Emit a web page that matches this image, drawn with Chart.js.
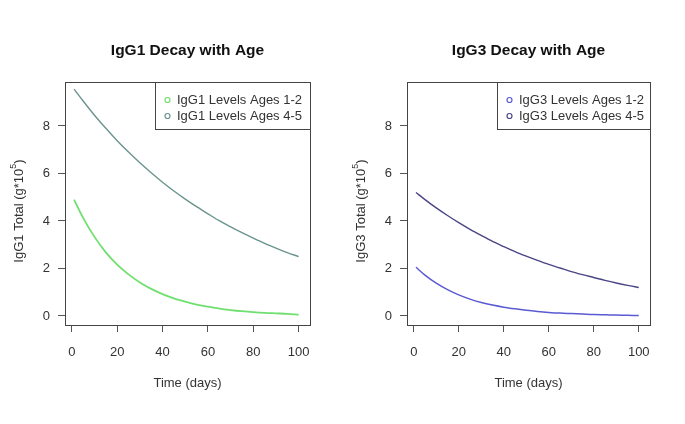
<!DOCTYPE html>
<html>
<head>
<meta charset="utf-8">
<script src="https://cdn.jsdelivr.net/npm/chart.js@4"></script>
<style>
  html, body { margin: 0; padding: 0; background: #ffffff; }
  #wrap { position: relative; width: 685px; height: 424px; }
  .panel { position: absolute; top: 0; height: 424px; }
</style>
</head>
<body>
<div id="wrap">
  <div class="panel" style="left:0;width:343px"><canvas id="igg1-chart"></canvas></div>
  <div class="panel" style="left:343px;width:342px"><canvas id="igg3-chart"></canvas></div>
</div>
<script>
// Values
const days = [1, 5, 10, 15, 20, 25, 30, 35, 40, 45, 50, 55, 60, 65, 70, 75, 80, 85, 90, 95, 100];
const igg1Young = [4.90, 4.13, 3.33, 2.68, 2.16, 1.75, 1.41, 1.14, 0.92, 0.74, 0.60, 0.48, 0.39, 0.31, 0.25, 0.20, 0.16, 0.13, 0.11, 0.09, 0.06];
const igg1Old = [9.55, 9.05, 8.45, 7.90, 7.38, 6.90, 6.45, 6.03, 5.63, 5.26, 4.92, 4.60, 4.30, 4.01, 3.75, 3.51, 3.28, 3.06, 2.86, 2.67, 2.50];
const igg3Young = [2.05, 1.72, 1.38, 1.11, 0.89, 0.71, 0.57, 0.46, 0.37, 0.30, 0.24, 0.19, 0.15, 0.12, 0.10, 0.08, 0.06, 0.05, 0.04, 0.03, 0.02];
const igg3Old = [5.20, 4.90, 4.55, 4.23, 3.93, 3.65, 3.39, 3.14, 2.92, 2.71, 2.52, 2.34, 2.17, 2.02, 1.87, 1.74, 1.62, 1.50, 1.39, 1.29, 1.20];
const xTicks = [0, 20, 40, 60, 80, 100];
const yTicks = [0, 2, 4, 6, 8];

const FONT = "'Liberation Sans', Arial, sans-serif";
const INK = '#333333';

function toPoints(values) {
    return days.map((d, i) => ({ x: d, y: values[i] }));
}

// Draws the R-style frame, title, axis titles and the boxed legend
const rFramePlugin = {
    id: 'rFrame',
    afterDraw(chart, args, opts) {
        const ctx = chart.ctx;
        const area = chart.chartArea;
        ctx.save();

        // plot box
        ctx.strokeStyle = '#444444';
        ctx.lineWidth = 1;
        ctx.strokeRect(Math.round(area.left) + 0.5, Math.round(area.top) + 0.5,
            Math.round(area.right - area.left), Math.round(area.bottom - area.top));

        // main title
        const cx = (area.left + area.right) / 2;
        ctx.fillStyle = '#111111';
        ctx.font = 'bold 15.5px ' + FONT;
        ctx.textAlign = 'center';
        ctx.textBaseline = 'middle';
        ctx.fillText(opts.title, cx, 51);

        // x axis title
        ctx.fillStyle = INK;
        ctx.font = '13px ' + FONT;
        ctx.fillText('Time (days)', cx, 383);

        // y axis title with superscript
        ctx.save();
        ctx.translate(opts.yTitleX, 211);
        ctx.rotate(-Math.PI / 2);
        const main = opts.yTitle + ' (g*10';
        ctx.font = '13px ' + FONT;
        const w1 = ctx.measureText(main).width;
        ctx.font = '9px ' + FONT;
        const w2 = ctx.measureText('5').width;
        ctx.font = '13px ' + FONT;
        const w3 = ctx.measureText(')').width;
        let x0 = -(w1 + w2 + w3) / 2;
        ctx.textAlign = 'left';
        ctx.fillText(main, x0, 0);
        ctx.font = '9px ' + FONT;
        ctx.fillText('5', x0 + w1, -5);
        ctx.font = '13px ' + FONT;
        ctx.fillText(')', x0 + w1 + w2, 0);
        ctx.restore();

        // legend box in the top right corner
        const lx = area.right - opts.legendWidth;
        const ly = area.top;
        ctx.strokeStyle = '#444444';
        ctx.strokeRect(Math.round(lx) + 0.5, Math.round(ly) + 0.5, Math.round(opts.legendWidth), 47);
        ctx.font = '13px ' + FONT;
        ctx.textAlign = 'left';
        ctx.textBaseline = 'middle';
        chart.data.datasets.forEach((ds, i) => {
            const y = ly + 18 + i * 16;
            ctx.beginPath();
            ctx.arc(lx + 12.5, y, 2.5, 0, Math.PI * 2);
            ctx.strokeStyle = ds.borderColor;
            ctx.lineWidth = 1.2;
            ctx.stroke();
            ctx.fillStyle = INK;
            ctx.fillText(ds.label, lx + 22, y);
        });
        ctx.restore();
    }
};

function makePanel(canvasId, cfg) {
    const canvas = document.getElementById(canvasId);
    const width = cfg.canvasWidth;
    canvas.width = width;
    canvas.height = 424;
    canvas.style.width = width + 'px';
    canvas.style.height = '424px';

    return new Chart(canvas.getContext('2d'), {
        type: 'line',
        data: {
            datasets: cfg.series.map(s => ({
                label: s.label,
                data: toPoints(s.values),
                borderColor: s.color,
                borderWidth: s.width,
                pointRadius: 0,
                fill: false,
                tension: 0.4,
                cubicInterpolationMode: 'monotone'
            }))
        },
        options: {
            responsive: false,
            animation: false,
            events: [],
            layout: {
                padding: { left: 0, top: 82, right: width - cfg.areaRight, bottom: 0 }
            },
            plugins: {
                legend: { display: false },
                tooltip: { enabled: false },
                title: { display: false },
                rFrame: {
                    title: cfg.title,
                    yTitle: cfg.yTitle,
                    yTitleX: cfg.yTitleX,
                    legendWidth: cfg.legendWidth
                }
            },
            scales: {
                x: {
                    type: 'linear',
                    min: -3,
                    max: 105,
                    afterBuildTicks: scale => { scale.ticks = xTicks.map(v => ({ value: v })); },
                    afterFit: scale => { scale.height = 424 - 325; },
                    grid: { drawOnChartArea: false, drawTicks: true, tickLength: 7, color: '#555555' },
                    border: { display: false },
                    ticks: { color: INK, font: { family: FONT, size: 13 }, padding: 13, maxRotation: 0 }
                },
                y: {
                    type: 'linear',
                    min: -0.38,
                    max: 9.85,
                    afterBuildTicks: scale => { scale.ticks = yTicks.map(v => ({ value: v })); },
                    afterFit: scale => { scale.width = cfg.areaLeft; },
                    grid: { drawOnChartArea: false, drawTicks: true, tickLength: 7, color: '#555555' },
                    border: { display: false },
                    ticks: { color: INK, font: { family: FONT, size: 13 }, padding: 8 }
                }
            }
        },
        plugins: [rFramePlugin]
    });
}

makePanel('igg1-chart', {
    canvasWidth: 343,
    areaLeft: 65,
    areaRight: 310,
    title: 'IgG1 Decay with Age',
    yTitle: 'IgG1 Total',
    yTitleX: 19,
    legendWidth: 155,
    series: [
        { label: 'IgG1 Levels Ages 1-2', values: igg1Young, color: '#6fe06f', width: 1.8 },
        { label: 'IgG1 Levels Ages 4-5', values: igg1Old, color: '#6a948d', width: 1.4 }
    ]
});

makePanel('igg3-chart', {
    canvasWidth: 342,
    areaLeft: 64,
    areaRight: 307,
    title: 'IgG3 Decay with Age',
    yTitle: 'IgG3 Total',
    yTitleX: 18,
    legendWidth: 153,
    series: [
        { label: 'IgG3 Levels Ages 1-2', values: igg3Young, color: '#5a5ad2', width: 1.5 },
        { label: 'IgG3 Levels Ages 4-5', values: igg3Old, color: '#4a4585', width: 1.4 }
    ]
});
</script>
</body>
</html>
